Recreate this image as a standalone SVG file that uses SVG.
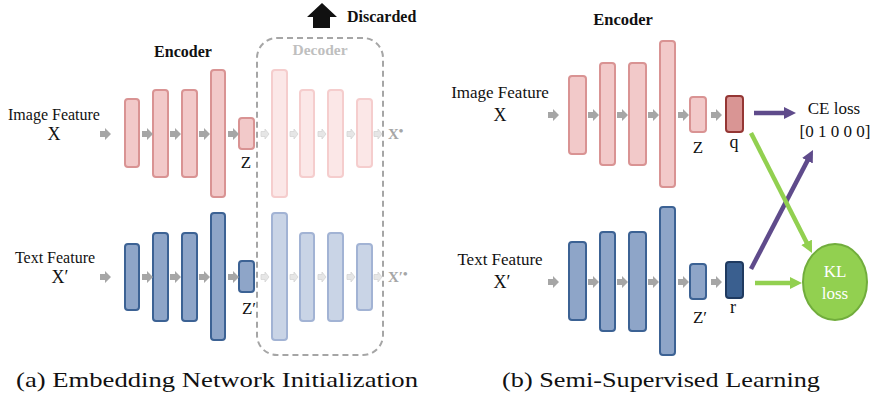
<svg xmlns="http://www.w3.org/2000/svg" width="877" height="394" viewBox="0 0 877 394">
<style>
text{font-family:"Liberation Serif","Times New Roman",serif;fill:#111}
.lbl{font-size:16px;text-anchor:middle}
.lbl2{font-size:17px;text-anchor:middle}
.var{font-size:18px;text-anchor:middle}
.bold{font-weight:bold}
.er{fill:#f2c9c9;stroke:#d99393;stroke-width:2}
.fr{fill:#fbe7e7;stroke:#f5cdcd;stroke-width:2}
.eb{fill:#8ea5c8;stroke:#3c6294;stroke-width:2}
.fb{fill:#c9d4e6;stroke:#a2b3d4;stroke-width:2}
.ga{fill:#a6a6a6}
.fa{fill:#e6e6e6;stroke:#d4d4d4;stroke-width:0.8}
.pl{stroke:#5f4b8b;stroke-width:4.5;fill:none}
.gl{stroke:#92d050;stroke-width:4.5;fill:none}
.cap{font-size:22px}
</style>
<defs>
<path id="arr" d="M0,-3 H5 V-6 L11,0 L5,6 V3 H0 Z"/>
<path id="farr" d="M0,-2.5 H4 V-5 L8,0 L4,5 V2.5 H0 Z"/>
<marker id="mp" markerUnits="userSpaceOnUse" markerWidth="13" markerHeight="13" refX="4" refY="6" orient="auto"><path d="M0,0 L12,6 L0,12 Z" fill="#5f4b8b"/></marker>
<marker id="mg" markerUnits="userSpaceOnUse" markerWidth="13" markerHeight="13" refX="4" refY="6" orient="auto"><path d="M0,0 L12,6 L0,12 Z" fill="#92d050"/></marker>
</defs>

<!-- Panel (a) -->
<g id="discarded">
<polygon points="307,17 322,3 337,17 330,17 330,28 313,28 313,17" fill="#111"/>
<text class="bold" x="347" y="22" font-size="16">Discarded</text>
</g>
<g id="decoder-box">
<rect x="257" y="38" width="126" height="317" rx="20" fill="none" stroke="#a6a6a6" stroke-width="2" stroke-dasharray="6 4"/>
<text class="bold" x="320" y="55" font-size="15.5" text-anchor="middle" style="fill:#bfbfbf">Decoder</text>
</g>
<g id="a-encoder-label"><text class="bold" x="183" y="57" font-size="16" text-anchor="middle">Encoder</text></g>

<g id="a-image-input">
<text class="lbl" x="54" y="120">Image Feature</text>
<text class="var" x="54" y="140">X</text>
</g>
<g id="a-text-input">
<text class="lbl" x="55" y="263">Text Feature</text>
<text class="var" x="60" y="283">X′</text>
</g>

<g id="a-img-enc1"><rect class="er" x="125" y="99" width="14" height="68" rx="3"/></g>
<g id="a-img-enc2"><rect class="er" x="153" y="90" width="15" height="87" rx="3"/></g>
<g id="a-img-enc3"><rect class="er" x="182" y="90" width="15" height="87" rx="3"/></g>
<g id="a-img-enc4"><rect class="er" x="211" y="70" width="14" height="127" rx="3"/></g>
<g id="a-z"><rect class="er" x="239" y="118" width="15" height="31" rx="3"/><text class="lbl2" x="246" y="168">Z</text></g>
<g id="a-img-dec1"><rect class="fr" x="272" y="70" width="15" height="127" rx="3"/></g>
<g id="a-img-dec2"><rect class="fr" x="300" y="90" width="14" height="87" rx="3"/></g>
<g id="a-img-dec3"><rect class="fr" x="328" y="90" width="15" height="87" rx="3"/></g>
<g id="a-img-dec4"><rect class="fr" x="357" y="99" width="15" height="68" rx="3"/></g>
<g id="a-xstar"><text class="bold" x="388" y="139" font-size="15" style="fill:#a6a6a6">X<tspan font-size="13" dy="-4">•</tspan></text></g>

<g id="a-txt-enc1"><rect class="eb" x="125" y="244" width="14" height="66" rx="3"/></g>
<g id="a-txt-enc2"><rect class="eb" x="153" y="233" width="15" height="88" rx="3"/></g>
<g id="a-txt-enc3"><rect class="eb" x="182" y="233" width="15" height="88" rx="3"/></g>
<g id="a-txt-enc4"><rect class="eb" x="211" y="213" width="14" height="127" rx="3"/></g>
<g id="a-zp"><rect class="eb" x="239" y="261" width="15" height="31" rx="3"/><text class="lbl2" x="249" y="314">Z′</text></g>
<g id="a-txt-dec1"><rect class="fb" x="272" y="213" width="15" height="127" rx="3"/></g>
<g id="a-txt-dec2"><rect class="fb" x="300" y="233" width="14" height="88" rx="3"/></g>
<g id="a-txt-dec3"><rect class="fb" x="328" y="233" width="15" height="88" rx="3"/></g>
<g id="a-txt-dec4"><rect class="fb" x="357" y="244" width="15" height="66" rx="3"/></g>
<g id="a-xpstar"><text class="bold" x="388" y="282" font-size="15" style="fill:#a6a6a6">X′<tspan font-size="13" dy="-4">•</tspan></text></g>

<!-- Panel (b) -->
<g id="b-encoder-label"><text class="bold" x="623" y="25" font-size="16.5" text-anchor="middle">Encoder</text></g>
<g id="b-image-input">
<text class="lbl2" x="500" y="98">Image Feature</text>
<text class="var" x="500" y="121">X</text>
</g>
<g id="b-text-input">
<text class="lbl2" x="500" y="265">Text Feature</text>
<text class="var" x="502" y="288">X′</text>
</g>
<g id="b-img-enc1"><rect class="er" x="569" y="76" width="17" height="78" rx="3"/></g>
<g id="b-img-enc2"><rect class="er" x="600" y="63" width="15" height="102" rx="3"/></g>
<g id="b-img-enc3"><rect class="er" x="629" y="63" width="17" height="102" rx="3"/></g>
<g id="b-img-enc4"><rect class="er" x="660" y="41" width="15" height="146" rx="3"/></g>
<g id="b-z"><rect class="er" x="690" y="97" width="16" height="35" rx="3"/><text class="lbl2" x="698" y="153">Z</text></g>
<g id="b-q"><rect x="726" y="96" width="17" height="36" rx="3" fill="#d99594" stroke="#943634" stroke-width="2"/><text class="var" x="734" y="148">q</text></g>

<g id="b-txt-enc1"><rect class="eb" x="569" y="242" width="17" height="78" rx="3"/></g>
<g id="b-txt-enc2"><rect class="eb" x="600" y="232" width="15" height="99" rx="3"/></g>
<g id="b-txt-enc3"><rect class="eb" x="629" y="232" width="17" height="99" rx="3"/></g>
<g id="b-txt-enc4"><rect class="eb" x="660" y="207" width="15" height="148" rx="3"/></g>
<g id="b-zp"><rect class="eb" x="690" y="264" width="16" height="35" rx="3"/><text class="lbl2" x="700" y="323">Z′</text></g>
<g id="b-r"><rect x="726" y="262" width="17" height="36" rx="3" fill="#3a5f8f" stroke="#1f3a60" stroke-width="2"/><text class="var" x="733" y="313">r</text></g>

<g id="b-ce-loss">
<text class="lbl2" x="834" y="114">CE loss</text>
<text class="lbl2" x="835" y="137">[0 1 0 0 0]</text>
</g>
<g id="b-kl-loss">
<ellipse cx="835" cy="282" rx="32" ry="38" fill="#92d050" stroke="#71ad3c" stroke-width="2"/>
<text class="lbl2" x="835" y="277" style="fill:#fff">KL</text>
<text class="lbl2" x="835" y="299" style="fill:#fff">loss</text>
</g>

<g id="connectors">
<g class="ga">
<use href="#arr" x="100" y="134"/><use href="#arr" x="142" y="134"/><use href="#arr" x="170" y="134"/><use href="#arr" x="199" y="134"/><use href="#arr" x="228" y="134"/>
<use href="#arr" x="100" y="277"/><use href="#arr" x="142" y="277"/><use href="#arr" x="170" y="277"/><use href="#arr" x="199" y="277"/><use href="#arr" x="228" y="277"/>
<use href="#arr" x="548" y="115"/><use href="#arr" x="588" y="115"/><use href="#arr" x="617" y="115"/><use href="#arr" x="648" y="115"/><use href="#arr" x="678" y="115"/><use href="#arr" x="711" y="115"/>
<use href="#arr" x="548" y="282"/><use href="#arr" x="588" y="282"/><use href="#arr" x="617" y="282"/><use href="#arr" x="648" y="282"/><use href="#arr" x="678" y="282"/><use href="#arr" x="711" y="282"/>
</g>
<g class="fa">
<use href="#farr" x="261" y="134"/><use href="#farr" x="290" y="134"/><use href="#farr" x="318" y="134"/><use href="#farr" x="347" y="134"/><use href="#farr" x="374" y="134"/>
<use href="#farr" x="261" y="277"/><use href="#farr" x="290" y="277"/><use href="#farr" x="318" y="277"/><use href="#farr" x="347" y="277"/><use href="#farr" x="374" y="277"/>
</g>
<line class="pl" x1="754" y1="113" x2="788" y2="113" marker-end="url(#mp)"/>
<line class="pl" x1="751" y1="269" x2="809.3" y2="157.1" marker-end="url(#mp)"/>
<line class="gl" x1="751" y1="133" x2="808.4" y2="245.9" marker-end="url(#mg)"/>
<line class="gl" x1="755" y1="283" x2="794" y2="283" marker-end="url(#mg)"/>
</g>

<g id="captions">
<text class="cap" x="16" y="387" textLength="402" lengthAdjust="spacingAndGlyphs">(a) Embedding Network Initialization</text>
<text class="cap" x="502" y="387" textLength="318" lengthAdjust="spacingAndGlyphs">(b) Semi-Supervised Learning</text>
</g>
</svg>
